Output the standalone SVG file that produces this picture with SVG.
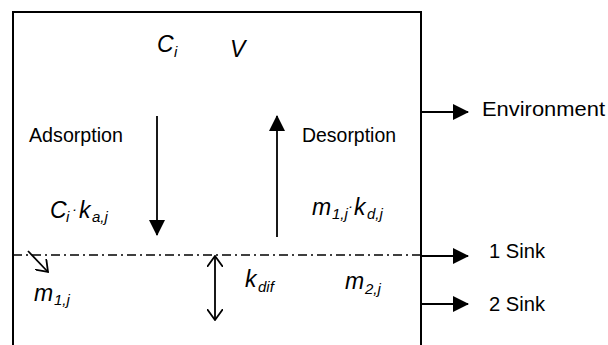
<svg xmlns="http://www.w3.org/2000/svg" width="608" height="345" viewBox="0 0 608 345">
<defs>
<style>
.t{font-family:"Liberation Sans",Arial,sans-serif;font-size:20px;fill:#000}
.m{font-family:"Liberation Sans",Arial,sans-serif;font-style:italic;font-size:23px;fill:#000}
.s{font-size:15px}
.ln{stroke:#000;stroke-width:1.8;fill:none}
.box{stroke:#000;stroke-width:2;fill:none}
</style>
<marker id="tri" viewBox="0 0 16 16" refX="15" refY="8" markerWidth="16" markerHeight="16" markerUnits="userSpaceOnUse" orient="auto">
<path d="M0,0 L16,8 L0,16 Z" fill="#000"/>
</marker>
<marker id="open" viewBox="0 0 12 16" refX="11" refY="8" markerWidth="12" markerHeight="16" markerUnits="userSpaceOnUse" orient="auto">
<path d="M0,0 L11,8 L0,16" fill="none" stroke="#000" stroke-width="1.8"/>
</marker>
</defs>
<rect width="608" height="345" fill="#fff"/>
<g id="compartment">
<path class="box" d="M13,345 V12 H421 V345"/>
</g>
<g id="connectors">
<line class="ln" x1="157" y1="116" x2="157" y2="235" marker-end="url(#tri)"/>
<line class="ln" x1="277" y1="237" x2="277" y2="116" marker-end="url(#tri)"/>
<line class="ln" x1="421" y1="112" x2="468" y2="112" marker-end="url(#tri)"/>
<line class="ln" x1="421" y1="256" x2="468" y2="256" marker-end="url(#tri)"/>
<line class="ln" x1="421" y1="304" x2="468" y2="304" marker-end="url(#tri)"/>
<line x1="13" y1="255" x2="421" y2="255" stroke="#000" stroke-width="1.5" stroke-dasharray="9 4 2 4"/>
<line class="ln" x1="215" y1="258" x2="215" y2="256" marker-end="url(#open)"/>
<line class="ln" x1="215" y1="258" x2="215" y2="320"/>
<line class="ln" x1="215" y1="318" x2="215" y2="320" marker-end="url(#open)"/>
<line class="ln" x1="28" y1="251" x2="48" y2="272" marker-end="url(#open)"/>
</g>
<g id="bulk">
<text class="m" x="157" y="52">C<tspan class="s" x="174" y="57">i</tspan></text>
<text class="m" x="230" y="57">V</text>
</g>
<g id="adsorption">
<text class="t" x="29" y="142" textLength="94" lengthAdjust="spacingAndGlyphs">Adsorption</text>
<text class="m" x="50" y="218">C<tspan class="s" x="66" y="222">i</tspan><tspan class="s" x="72" y="214">·</tspan><tspan x="79" y="218">k</tspan><tspan class="s" x="92" y="222">a,j</tspan></text>
</g>
<g id="desorption">
<text class="t" x="302" y="142" textLength="94" lengthAdjust="spacingAndGlyphs">Desorption</text>
<text class="m" x="312" y="215">m<tspan class="s" x="332" y="219">1,j</tspan><tspan class="s" x="348" y="211">·</tspan><tspan x="354" y="215">k</tspan><tspan class="s" x="367" y="219">d,j</tspan></text>
</g>
<g id="layer1">
<text class="m" x="34" y="301">m<tspan class="s" x="54" y="305">1,j</tspan></text>
</g>
<g id="diffusion">
<text class="m" x="245" y="287">k<tspan class="s" x="258" y="292">dif</tspan></text>
</g>
<g id="layer2">
<text class="m" x="345" y="289">m<tspan class="s" x="365" y="294">2,j</tspan></text>
</g>
<g id="environment">
<text class="t" x="482" y="116" textLength="123" lengthAdjust="spacingAndGlyphs">Environment</text>
</g>
<g id="sink1">
<text class="t" x="489" y="258" textLength="56" lengthAdjust="spacingAndGlyphs">1 Sink</text>
</g>
<g id="sink2">
<text class="t" x="489" y="311" textLength="56" lengthAdjust="spacingAndGlyphs">2 Sink</text>
</g>
</svg>
